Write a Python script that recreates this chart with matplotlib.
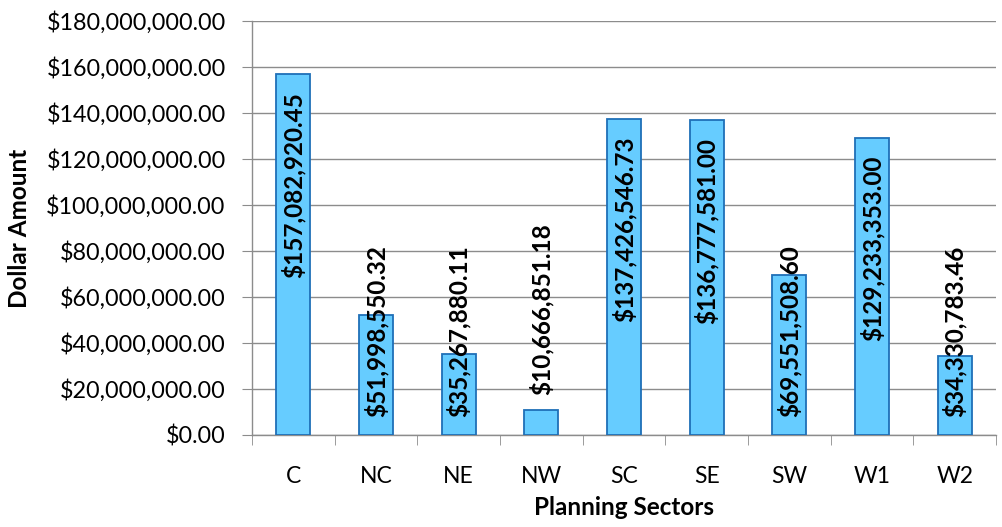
import matplotlib
matplotlib.use('Agg')
import matplotlib.pyplot as plt
from matplotlib.ticker import FuncFormatter, FixedLocator

# ── data ─────────────────────────────────────────────────────────────────────
sectors = ['C', 'NC', 'NE', 'NW', 'SC', 'SE', 'SW', 'W1', 'W2']
amounts = [157082920.45, 51998550.32, 35267880.11, 10666851.18,
           137426546.73, 136777581.00, 69551508.60, 129233353.00,
           34330783.46]
y_ticks = [0, 20e6, 40e6, 60e6, 80e6, 100e6, 120e6, 140e6, 160e6, 180e6]

# ── style ────────────────────────────────────────────────────────────────────
_C_BAR  = '#66CCFF'
_C_EDGE = '#1F6FB8'
_C_GRID = '#8C8C8C'

plt.rcParams['font.family'] = ['Lato', 'DejaVu Sans']

fig = plt.figure(figsize=(10.02, 5.27), dpi=100)
ax = fig.add_axes([252 / 1002, 1 - 435 / 527, (996 - 252) / 1002, (435 - 21) / 527])

x = list(range(len(sectors)))
ax.bar(x, amounts, width=0.41, color=_C_BAR, edgecolor=_C_EDGE,
       linewidth=1.3, zorder=3)

ax.set_xlim(-0.5, len(sectors) - 0.5)
ax.set_ylim(0, 180e6)
ax.yaxis.set_major_locator(FixedLocator(y_ticks))
ax.yaxis.set_major_formatter(FuncFormatter(lambda v, _: f'${v:,.2f}'))
ax.set_xticks(x)
ax.set_xticklabels(sectors)
ax.set_xticks([i + 0.5 for i in range(-1, len(sectors))], minor=True)

ax.grid(axis='y', color=_C_GRID, lw=1.0, zorder=0)
for s in ('top', 'right'):
    ax.spines[s].set_visible(False)
for s in ('left', 'bottom'):
    ax.spines[s].set_color(_C_GRID)
    ax.spines[s].set_linewidth(1.0)

ax.tick_params(axis='y', length=7, color=_C_GRID, labelsize=16.8, pad=12)
ax.tick_params(axis='x', which='major', length=0, labelsize=16.5, pad=22)
ax.tick_params(axis='x', which='minor', length=7, color=_C_GRID)

ax.set_ylabel('Dollar Amount', fontsize=17.5, fontweight='bold')
ax.set_xlabel('Planning Sectors', fontsize=17.5, fontweight='bold')
ax.yaxis.set_label_coords(-0.313, 0.5)
ax.xaxis.set_label_coords(0.5, -0.176)
ax.xaxis.label.set_va('center')
ax.yaxis.label.set_va('center')

# ── data labels (Excel-like: inside end, pushed to the base if too long) ─────
fig.canvas.draw()
renderer = fig.canvas.get_renderer()
px_per_unit = ax.bbox.height / 180e6
pad_pt = 13
for xi, v in zip(x, amounts):
    lbl = f'${v:,.2f}'
    bar_px = v * px_per_unit
    t = ax.annotate(lbl, xy=(xi, v), xytext=(0, -pad_pt),
                    textcoords='offset points', rotation=90,
                    ha='center', va='top', fontsize=17.5,
                    fontweight='bold', zorder=5)
    h = t.get_window_extent(renderer).height
    if bar_px < 30:
        t.xy = (xi, v)
        t.set_position((0, 11))
        t.set_va('bottom')
    elif bar_px < h + 2 * pad_pt * 100 / 72:
        t.xy = (xi, 0)
        t.set_position((0, pad_pt))
        t.set_va('bottom')

fig.savefig('out.png', dpi=100)
